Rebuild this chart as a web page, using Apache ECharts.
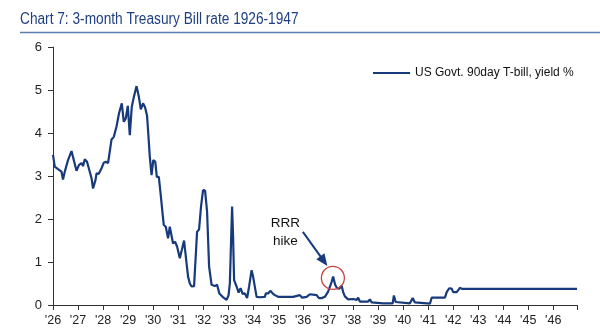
<!DOCTYPE html>
<html>
<head>
<meta charset="utf-8">
<script src="https://cdn.jsdelivr.net/npm/echarts@6/dist/echarts.min.js"></script>
<style>
html,body{margin:0;padding:0;background:#fff;}
#c{width:600px;height:335px;}
</style>
</head>
<body>
<div id="c"></div>
<script>
// Decimal year of each observation
var years = [
1926.00,1926.07,1926.14,1926.20,1926.27,1926.34,1926.40,1926.47,1926.60,1926.74,1926.83,1926.94,
1927.04,1927.14,1927.20,1927.27,1927.36,1927.47,1927.54,1927.60,1927.70,1927.74,1927.83,1927.94,
1928.03,1928.11,1928.20,1928.27,1928.34,1928.43,1928.54,1928.64,1928.75,1928.83,1928.91,1928.99,
1929.07,1929.15,1929.23,1929.34,1929.43,1929.51,1929.60,1929.68,1929.76,1929.80,1929.87,1929.94,
1930.01,1930.09,1930.15,1930.23,1930.30,1930.38,1930.43,1930.51,1930.60,1930.67,1930.74,1930.80,1930.88,1930.96,
1931.07,1931.15,1931.24,1931.34,1931.40,1931.47,1931.54,1931.64,1931.70,1931.76,1931.84,1931.92,
1932.00,1932.08,1932.16,1932.24,1932.34,1932.47,1932.56,1932.65,1932.78,1932.84,1932.94,
1933.02,1933.07,1933.16,1933.20,1933.24,1933.34,1933.42,1933.50,1933.58,1933.67,1933.76,1933.84,1933.94,
1934.00,1934.07,1934.14,1934.27,1934.47,1934.51,1934.60,1934.70,1934.78,1934.87,
1935.00,1935.60,1935.67,1935.87,1935.96,
1936.14,1936.27,1936.54,1936.63,1936.74,1936.87,
1937.00,1937.14,1937.20,1937.28,1937.36,1937.45,1937.54,1937.60,1937.67,1937.80,
1938.00,1938.14,1938.20,1938.27,1938.60,1938.67,1938.74,
1939.20,1939.58,1939.63,1939.70,
1940.27,1940.38,1940.47,
1941.07,1941.14,1941.67,1941.74,1941.84,1941.94,
1942.00,1942.14,1942.27,1942.35,1946.95
];
// US Govt. 90day T-bill yield, %
var yields = [
3.49,3.22,3.26,3.16,3.20,3.10,2.92,3.10,3.37,3.58,3.37,3.12,
3.26,3.30,3.23,3.39,3.33,3.10,2.95,2.71,2.91,3.06,3.05,3.18,
3.31,3.33,3.30,3.57,3.85,3.91,4.15,4.46,4.69,4.26,4.34,4.63,
3.95,4.61,4.83,5.09,4.85,4.55,4.69,4.60,4.40,4.07,3.45,3.02,
3.37,3.33,2.98,2.98,2.60,2.13,1.86,1.82,1.55,1.82,1.84,1.43,1.47,1.36,
1.09,1.28,1.50,0.97,0.66,0.50,0.43,0.44,0.47,1.70,1.76,2.30,
2.67,2.66,2.17,0.90,0.47,0.44,0.47,0.27,0.19,0.21,0.12,
0.23,0.50,2.29,1.59,0.58,0.43,0.29,0.39,0.26,0.27,0.16,0.43,0.81,
0.66,0.70,0.19,0.18,0.19,0.27,0.27,0.33,0.27,0.23,
0.19,0.19,0.23,0.23,0.17,
0.19,0.25,0.23,0.16,0.16,0.19,
0.31,0.54,0.66,0.47,0.39,0.38,0.45,0.30,0.20,0.13,
0.14,0.12,0.17,0.08,0.08,0.13,0.06,
0.04,0.04,0.22,0.07,
0.04,0.16,0.06,
0.03,0.17,0.17,0.30,0.39,0.38,
0.30,0.30,0.40,0.375,0.375
];
var xTickYears = [1926,1927,1928,1929,1930,1931,1932,1933,1934,1935,1936,1937,1938,1939,1940,1941,1942,1943,1944,1945,1946];
var yTicks = [0,1,2,3,4,5,6];
var seriesName = 'US Govt. 90day T-bill, yield %';
var titleText = 'Chart 7: 3-month Treasury Bill rate 1926-1947';

var data = years.map(function(y,i){return [y, yields[i]];});
var FONT = "'Liberation Sans',Arial,sans-serif";
var NAVY = '#173A7C';

var chart = echarts.init(document.getElementById('c'), null, {renderer:'canvas'});
chart.setOption({
  animation:false,
  backgroundColor:'#fff',
  graphic:[
    {type:'text', x:20, y:12, scaleX:0.855, scaleY:1,
      style:{text:titleText, fontFamily:FONT, fontSize:16, fill:'#1F3F80', textVerticalAlign:'top', verticalAlign:'top'}},
    {type:'line', shape:{x1:20,y1:32.5,x2:600,y2:32.5}, style:{stroke:'#5B7DB6', lineWidth:1.5}}
  ],
  legend:{
    data:[seriesName], left:368, top:62, itemWidth:37, itemHeight:2, icon:'rect', itemGap:5,
    textStyle:{fontFamily:FONT, fontSize:12, color:'#111'}
  },
  grid:{left:53, right:23, top:47, bottom:30, containLabel:false},
  xAxis:{
    type:'value', min:1926, max:1946.95, interval:1,
    axisLine:{lineStyle:{color:'#333', width:1}},
    axisTick:{show:true, length:5, lineStyle:{color:'#333'}},
    axisLabel:{margin:9, fontFamily:FONT, fontSize:12.5, color:'#222',
      formatter:function(v){ return xTickYears.indexOf(v) >= 0 ? "'" + String(v).slice(2) : ''; }},
    splitLine:{show:false}
  },
  yAxis:{
    type:'value', min:yTicks[0], max:yTicks[yTicks.length-1], interval:1,
    axisLine:{show:true, lineStyle:{color:'#333', width:1}},
    axisTick:{show:true, length:5, lineStyle:{color:'#333'}},
    axisLabel:{margin:11, fontFamily:FONT, fontSize:13, color:'#222'},
    splitLine:{show:false}
  },
  series:[{
    name:seriesName, type:'line', data:data, showSymbol:false, symbol:'none',
    lineStyle:{color:NAVY, width:2.2}, itemStyle:{color:NAVY},
    markPoint:{
      silent:true,
      data:[
        {coord:[1937.19,0.63], symbol:'circle', symbolSize:23,
          itemStyle:{color:'rgba(0,0,0,0)', borderColor:'#C8423C', borderWidth:1.3},
          label:{show:false}},
        {coord:[1935.29,1.70], symbol:'circle', symbolSize:1,
          itemStyle:{color:'rgba(0,0,0,0)'},
          label:{show:true, position:'inside', formatter:'RRR\nhike', fontFamily:FONT, fontSize:13.5, lineHeight:18, color:'#111'}}
      ]
    },
    markLine:{
      silent:true, symbol:['none','triangle'], symbolSize:[10,12],
      lineStyle:{color:NAVY, width:2, type:'solid'},
      label:{show:false},
      data:[[{coord:[1935.99,1.70]},{coord:[1936.83,1.02]}]]
    }
  }]
});
</script>
</body>
</html>
